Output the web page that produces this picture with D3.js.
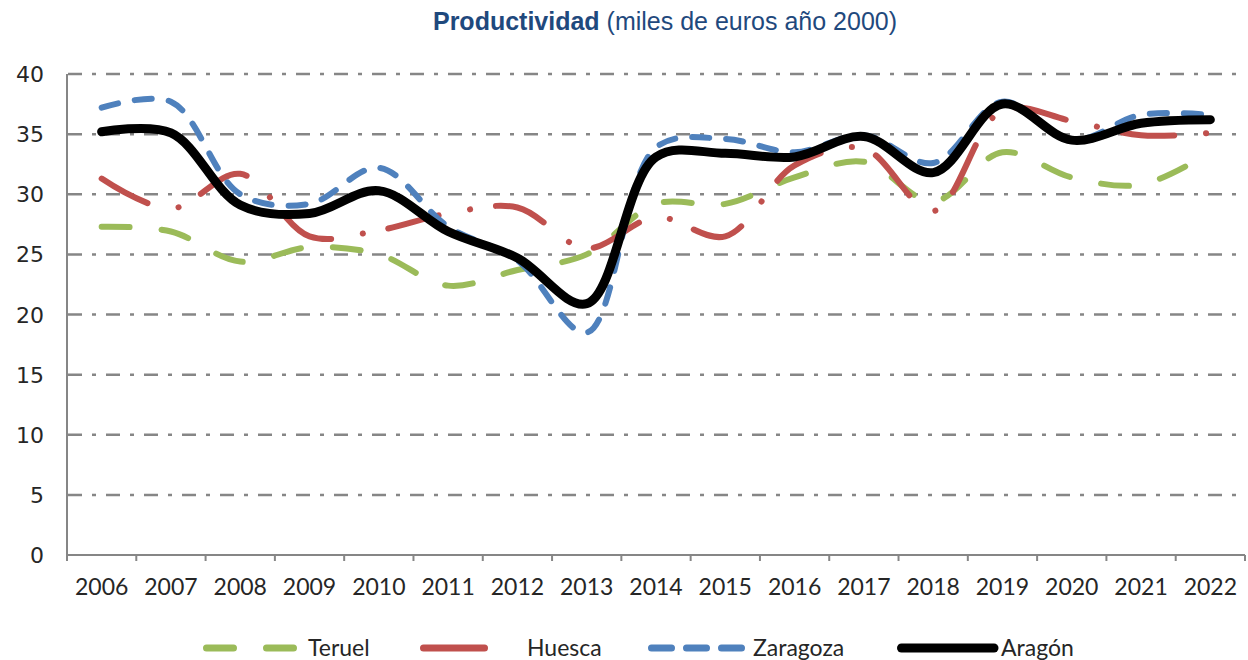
<!DOCTYPE html>
<html lang="es">
<head>
    <meta charset="UTF-8">
    <title>Productividad</title>
    <script src="https://cdnjs.cloudflare.com/ajax/libs/d3/7.8.5/d3.min.js"></script>
</head>

<style>
  body {
    margin: 0;
    background: #fff;
  }

  .grid line {
    stroke: #868686;
    stroke-width: 2.5;
    stroke-dasharray: 14,10,4,10;
  }

  .axisline {
    stroke: #868686;
    stroke-width: 2;
  }

  .ylab {
    font-family: "DejaVu Sans", sans-serif;
    font-size: 22px;
    fill: #262626;
  }

  .xlab, .legtext {
    font-family: Lato, "Open Sans", sans-serif;
    font-size: 23px;
    fill: #262626;
  }

  .serie {
    fill: none;
    stroke-linecap: round;
    stroke-linejoin: round;
  }

  .title {
    font-family: "Liberation Sans", Arial, sans-serif;
    font-size: 25px;
    fill: #1F497D;
  }
</style>

<body>

<div id="chart">
<script type="text/javascript">

// datos (miles de euros año 2000)
var years = [2006, 2007, 2008, 2009, 2010, 2011, 2012, 2013, 2014, 2015, 2016, 2017, 2018, 2019, 2020, 2021, 2022];
var teruel   = [27.3, 26.9, 24.4, 25.6, 25.0, 22.4, 23.7, 25.0, 29.2, 29.2, 31.4, 32.7, 29.4, 33.5, 31.4, 30.8, 33.5];
var huesca   = [31.3, 28.8, 31.7, 26.5, 27.0, 28.4, 28.9, 25.5, 28.1, 26.5, 32.4, 33.8, 28.6, 37.0, 36.1, 34.9, 35.1];
var zaragoza = [37.2, 37.7, 30.0, 29.2, 32.2, 27.3, 24.5, 18.5, 33.9, 34.6, 33.5, 34.9, 32.6, 37.7, 34.5, 36.6, 36.6];
var aragon   = [35.2, 35.1, 29.1, 28.4, 30.3, 26.9, 24.7, 20.9, 33.1, 33.4, 33.1, 34.8, 31.8, 37.5, 34.5, 35.9, 36.2];
var yTicks = [0, 5, 10, 15, 20, 25, 30, 35, 40];

var series = [
  {name: 'Teruel',   values: teruel,   color: '#9BBB59', width: 6, dash: '28,32'},
  {name: 'Huesca',   values: huesca,   color: '#C0504D', width: 6, dash: '52,32,0.1,26'},
  {name: 'Zaragoza', values: zaragoza, color: '#4F81BD', width: 6, dash: '17,17'},
  {name: 'Aragón',   values: aragon,   color: '#000000', width: 9, dash: null}
];

var width = 1248,
    height = 660,
    plotLeft = 67,
    plotRight = 1245,
    plotTop = 74,
    plotBottom = 555;

var svg = d3.select('#chart').append('svg')
    .attr('width', width)
    .attr('height', height);

var x = d3.scaleBand()
    .domain(years)
    .range([plotLeft, plotRight]);

var y = d3.scaleLinear()
    .domain([0, 40])
    .range([plotBottom, plotTop]);

var cx = function (i) { return x(years[i]) + x.bandwidth() / 2; };

// title
var title = svg.append('text')
    .attr('class', 'title')
    .attr('x', 665)
    .attr('y', 30)
    .attr('text-anchor', 'middle');
title.append('tspan').attr('font-weight', 'bold').text('Productividad');
title.append('tspan').text(' (miles de euros año 2000)');

// gridlines
svg.append('g')
    .attr('class', 'grid')
    .selectAll('line')
    .data(yTicks.filter(function (d) { return d > 0; }))
    .enter()
    .append('line')
    .attr('x1', plotLeft + 1)
    .attr('x2', plotRight)
    .attr('y1', y)
    .attr('y2', y);

// y labels
svg.selectAll('text.ylab')
    .data(yTicks)
    .enter()
    .append('text')
    .attr('class', 'ylab')
    .attr('x', 44)
    .attr('y', function (d) { return y(d) + 8; })
    .attr('text-anchor', 'end')
    .text(function (d) { return d; });

// axes
svg.append('line')
    .attr('class', 'axisline')
    .attr('x1', plotLeft).attr('x2', plotLeft)
    .attr('y1', plotTop).attr('y2', plotBottom);

svg.append('line')
    .attr('class', 'axisline')
    .attr('x1', plotLeft).attr('x2', plotRight)
    .attr('y1', plotBottom).attr('y2', plotBottom);

var bounds = years.map(function (d) { return x(d); }).concat([plotRight]);
svg.selectAll('line.tick')
    .data(bounds)
    .enter()
    .append('line')
    .attr('class', 'axisline tick')
    .attr('x1', function (d) { return d; })
    .attr('x2', function (d) { return d; })
    .attr('y1', plotBottom)
    .attr('y2', plotBottom + 6);

svg.selectAll('text.xlab')
    .data(years)
    .enter()
    .append('text')
    .attr('class', 'xlab')
    .attr('x', function (d) { return x(d) + x.bandwidth() / 2; })
    .attr('y', 595)
    .attr('text-anchor', 'middle')
    .text(function (d) { return d; });

// lines
var line = d3.line()
    .x(function (d, i) { return cx(i); })
    .y(function (d) { return y(d); })
    .curve(d3.curveCatmullRom.alpha(0.5));

svg.selectAll('path.serie')
    .data(series)
    .enter()
    .append('path')
    .attr('class', 'serie')
    .attr('d', function (d) { return line(d.values); })
    .attr('stroke', function (d) { return d.color; })
    .attr('stroke-width', function (d) { return d.width; })
    .attr('stroke-dasharray', function (d) { return d.dash; });

// legend
var legY = 648;
var legend = [
  {x1: 206.5, x2: 294, text: 308, dash: '27,33', w: 7},
  {x1: 423.5, x2: 484.5, text: 527, dash: null, w: 7},
  {x1: 651.5, x2: 742, text: 753, dash: '20,15', w: 7},
  {x1: 901.5, x2: 994, text: 1001, dash: null, w: 9}
];

legend.forEach(function (l, i) {
    svg.append('line')
        .attr('class', 'serie')
        .attr('x1', l.x1).attr('x2', l.x2)
        .attr('y1', legY).attr('y2', legY)
        .attr('stroke', series[i].color)
        .attr('stroke-width', l.w)
        .attr('stroke-dasharray', l.dash);

    svg.append('text')
        .attr('class', 'legtext')
        .attr('x', l.text)
        .attr('y', legY + 8)
        .text(series[i].name);
});

</script>
</div>
</body>
</html>
